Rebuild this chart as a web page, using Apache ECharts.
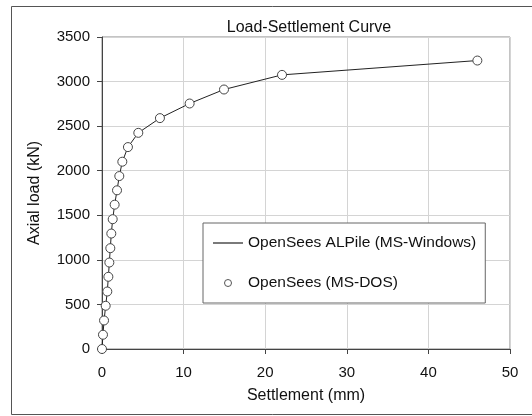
<!DOCTYPE html>
<html>
<head>
	<meta charset="utf-8">
	<title>Load-Settlement Curve</title>
	<style type="text/css">
		html,body{margin:0;padding:0;background:#fff;}
		#main{width:532px;height:416px;}
	</style>
</head>
<body>
<div id="main"></div>
<script type="text/javascript" src="https://cdn.jsdelivr.net/npm/echarts@6/dist/echarts.min.js"></script>
<script type="text/javascript">
	// settlement (mm) and axial load (kN)
	var settlement = [0, 0.12, 0.25, 0.45, 0.65, 0.78, 0.9, 1.02, 1.14, 1.31, 1.55, 1.84, 2.12, 2.49, 3.18, 4.45, 7.1, 10.74, 14.95, 22.06, 46.0];
	var load = [0, 160, 320, 485, 645, 810, 970, 1131, 1295, 1456, 1619, 1780, 1940, 2101, 2265, 2425, 2590, 2754, 2911, 3075, 3236];
	var lineName = 'OpenSees ALPile (MS-Windows)';
	var dosName = 'OpenSees (MS-DOS)';

	var pts = [];
	for(var i=0;i<settlement.length;i++){
		pts.push([settlement[i], load[i]]);
	}

	var font = 'Liberation Sans, Arial, sans-serif';
	var myChart = echarts.init(document.getElementById("main"));

	var option = {
		animation: false,
		title: {
			text: 'Load-Settlement Curve',
			left: 304,
			textAlign: 'center',
			top: 15,
			textStyle: {fontFamily: font, fontSize: 16, fontWeight: 'normal', color: '#111'}
		},
		graphic: [{
			type: 'rect',
			shape: {x: 11.5, y: 6.5, width: 530, height: 408},
			style: {fill: null, stroke: '#555', lineWidth: 1},
			silent: true
		}],
		grid: {
			left: 102,
			right: 22,
			top: 37,
			bottom: 67,
			show: true,
			borderColor: '#888',
			borderWidth: 1
		},
		legend: {
			orient: 'vertical',
			left: 203,
			top: 223,
			padding: [12, 9, 12, 10],
			itemWidth: 30,
			itemHeight: 7,
			itemGap: 24,
			borderColor: '#666',
			borderWidth: 1,
			backgroundColor: '#fff',
			textStyle: {fontFamily: font, fontSize: 15.5, color: '#111'},
			data: [{
				name: lineName,
				icon: 'path://M0,0L30,0L30,1.2L0,1.2Z',
				itemStyle: {color: '#222', borderWidth: 0}
			},{
				name: dosName,
				icon: 'circle',
				itemStyle: {color: '#fff', borderColor: '#555', borderWidth: 1}
			}]
		},
		xAxis: {
			type: 'value',
			min: 0,
			max: 50,
			interval: 10,
			name: 'Settlement (mm)',
			nameLocation: 'middle',
			nameGap: 39,
			nameTextStyle: {fontFamily: font, fontSize: 16, color: '#111'},
			axisLine: {onZero: false, lineStyle: {color: '#444', width: 1}},
			axisTick: {show: true, length: 5, lineStyle: {color: '#444'}},
			axisLabel: {margin: 16, fontFamily: font, fontSize: 15, color: '#111'},
			splitLine: {show: true, lineStyle: {color: '#d4d4d4', width: 1}}
		},
		yAxis: {
			type: 'value',
			min: 0,
			max: 3500,
			interval: 500,
			name: 'Axial load (kN)',
			nameLocation: 'middle',
			nameGap: 59,
			nameTextStyle: {fontFamily: font, fontSize: 16, color: '#111'},
			axisLine: {show: true, onZero: false, lineStyle: {color: '#444', width: 1}},
			axisTick: {show: true, length: 5, lineStyle: {color: '#444'}},
			axisLabel: {
				margin: 12, fontFamily: font, fontSize: 15, color: '#111',
				formatter: function(v){ return String(v); }
			},
			splitLine: {show: true, lineStyle: {color: '#d4d4d4', width: 1}}
		},
		series: [{
			name: lineName,
			type: 'line',
			symbol: 'none',
			lineStyle: {color: '#222', width: 1},
			itemStyle: {color: '#222'},
			z: 2,
			data: pts
		},{
			name: dosName,
			type: 'scatter',
			symbol: 'circle',
			symbolSize: 9,
			itemStyle: {color: '#fff', borderColor: '#444', borderWidth: 1, opacity: 1},
			z: 3,
			data: pts
		}]
	};

	myChart.setOption(option);
</script>
</body>
</html>
